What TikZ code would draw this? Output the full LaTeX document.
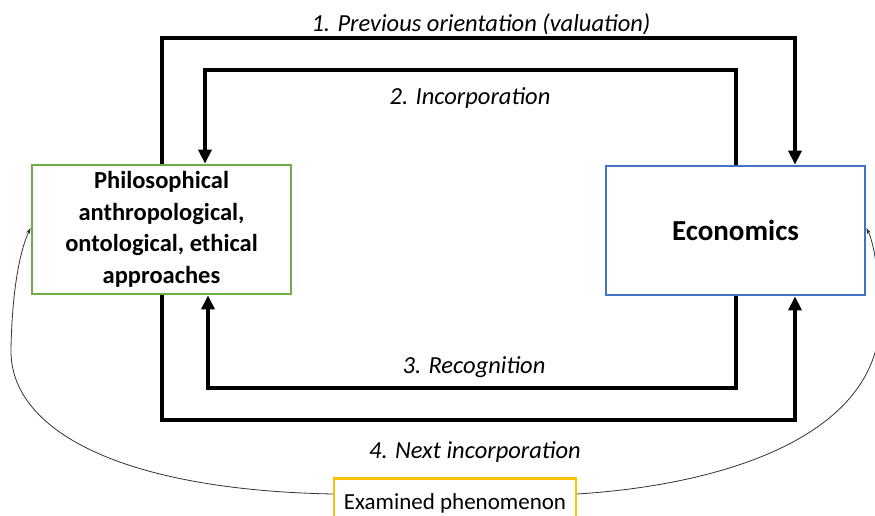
\documentclass[tikz,border=0pt]{standalone}
\usepackage{fontspec}
\setmainfont{Carlito}
\usetikzlibrary{arrows.meta}
\definecolor{boxgreen}{HTML}{70AD47}
\definecolor{boxblue}{HTML}{4472C4}
\definecolor{boxyellow}{HTML}{FFC000}
\tikzset{
  box/.style={draw, line width=2.8pt, fill=white, minimum width=259pt, minimum height=129pt, align=center, inner sep=0pt, font=\fontsize{24.5}{31.5}\selectfont\bfseries},
  flow/.style={line width=4pt, -{Triangle[length=14pt,width=13pt]}},
  thinflow/.style={line width=0.8pt, black!80, -{Stealth[length=6pt,width=4pt]}},
  lab/.style={font=\fontsize{24.5}{28}\selectfont\itshape, inner sep=1pt}
}
\begin{document}
\begin{tikzpicture}[x=1pt,y=-1pt]
\useasboundingbox (0,0) rectangle (875,516);
\fill[white] (0,0) rectangle (875,516);
\node[box, draw=boxgreen] (green) at (161.5,229.5) {Philosophical\\anthropological,\\ontological, ethical\\approaches};
\node[box, draw=boxblue, font=\fontsize{29}{31}\selectfont\bfseries] (blue) at (735.5,230.5) {Economics};
\node[draw=boxyellow, line width=2.8pt, minimum width=242pt, minimum height=50pt, inner sep=0pt, font=\fontsize{23}{28}\selectfont, anchor=north] (exam) at (455,477) {\raisebox{-12pt}{Examined phenomenon}};
\draw[flow] (green.north) -- (green.north |- 0,38) -| ([xshift=59.5pt]blue.north);
\draw[flow] (blue.north) -- (blue.north |- 0,70) -| ([xshift=43.5pt]green.north);
\draw[flow] (blue.south) -- (blue.south |- 0,388) -| ([xshift=46.5pt]green.south);
\draw[flow] (green.south) -- (green.south |- 0,420) -| ([xshift=59.5pt]blue.south);
\node[lab] (l1) at (481,24) {1. Previous orientation (valuation)};
\node[lab] (l2) at (470,98) {2. Incorporation};
\node[lab] (l3) at (474,367) {3. Recognition};
\node[lab] (l4) at (475,452) {4. Next incorporation};
\coordinate (ya) at (333,494);
\coordinate (yb) at (577,494);
\coordinate (lft) at (11,350);
\coordinate (rgt) at (878,340);
\draw[thinflow] (ya) .. controls (120,490) and (10,430) .. (lft) .. controls (12,290) and (20,250) .. (green.west |- 0,228);
\draw[thinflow] (yb) .. controls (720,485) and (860,440) .. (rgt) .. controls (882,290) and (875,245) .. (blue.east |- 0,228);
\end{tikzpicture}
\end{document}
